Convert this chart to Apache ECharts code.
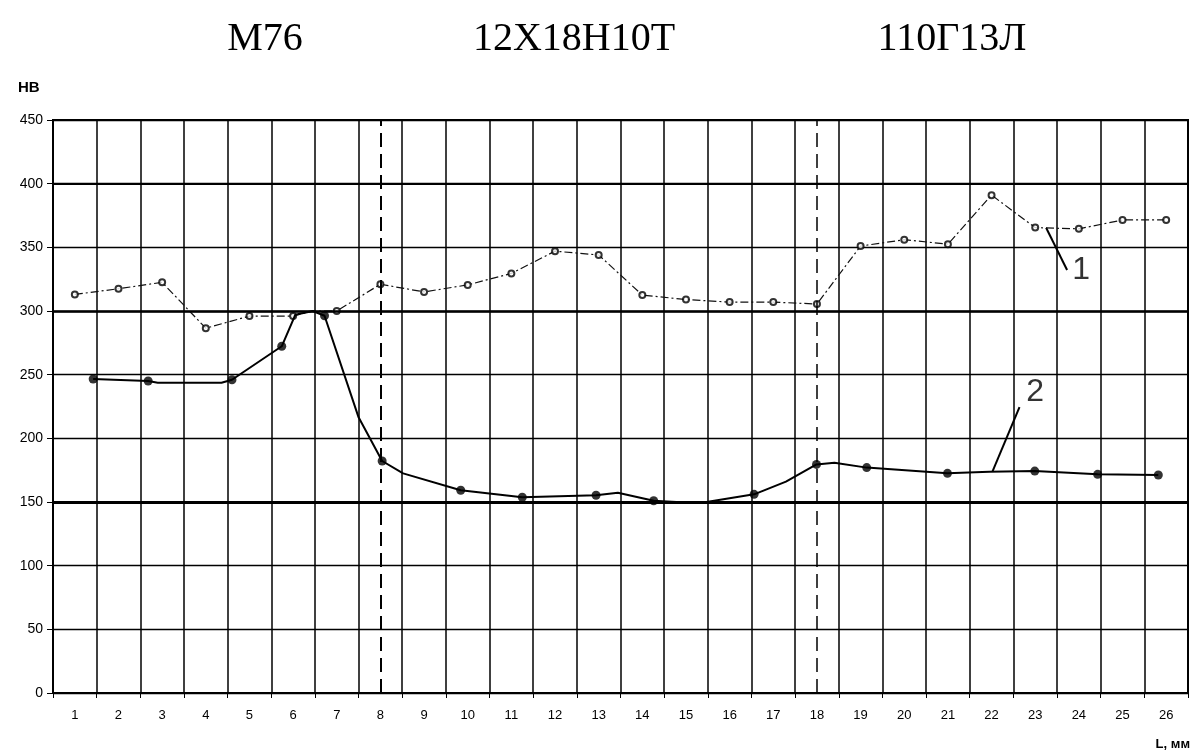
<!DOCTYPE html>
<html>
<head>
<meta charset="utf-8">
<script src="https://cdn.jsdelivr.net/npm/echarts@6/dist/echarts.min.js"></script>
<style>
html,body{margin:0;padding:0;background:#fff;}
#chart{width:1199px;height:756px;}
</style>
</head>
<body>
<div id="chart"></div>
<script>
// ---- data ----
var categories = ['1','2','3','4','5','6','7','8','9','10','11','12','13','14','15','16','17','18','19','20','21','22','23','24','25','26'];
var yTicks = [0,50,100,150,200,250,300,350,400,450];
var materials = ['M76','12X18H10T','110Г13Л'];
var boundaryPositions = [8, 18];

// curve 1: measured points (x in mm, HB)
var s1Points = [[1,313],[2,317.5],[3,322.5],[4,286.5],[5,296],[6,296],[7,300],[8,321],[9,315],[10,320.5],[11,329.5],[12,347],[13,344],[14,312.5],[15,309],[16,307],[17,307],[18,305.5],[19,351],[20,356],[21,352.5],[22,391],[23,365.5],[24,364.5],[25,371.5],[26,371.5]];
var s1Vertices = [[6.45,300]];

// curve 2: measured points and extra curve vertices
var s2Points = [[1.42,246.6],[2.68,245],[4.6,246],[5.74,272.3],[6.72,296.3],[8.04,182.2],[9.84,159.2],[11.25,153.7],[12.94,155.3],[14.26,151],[16.56,156],[17.99,179.5],[19.14,177],[20.99,172.5],[22.99,174.3],[24.43,171.7],[25.82,171.2]];
var s2Vertices = [[2.9,243.7],[4.36,243.7],[6.05,297],[6.45,300],[7.5,216.5],[8.52,172.5],[13.44,157.3],[14.78,150],[15.47,150],[17.29,166],[18.4,180.9],[21.95,173.8]];

function merged(a, b){ return a.concat(b).sort(function(p,q){return p[0]-q[0];}); }

var chart = echarts.init(document.getElementById('chart'));
var FONT = '"Liberation Sans", Arial, sans-serif';
var SERIF = '40px "Liberation Serif", "Times New Roman", serif';
var option = {
  animation: false,
  backgroundColor: '#fff',
  grid: {left: 53, right: 11, top: 120, bottom: 63, show: true, borderColor: '#000', borderWidth: 2, backgroundColor: 'transparent'},
  xAxis: [{
    type: 'category', data: categories, boundaryGap: true,
    axisLine: {lineStyle: {color: '#000', width: 2}},
    axisTick: {show: true, length: 5, lineStyle: {color: '#000', width: 1}},
    axisLabel: {color: '#000', fontFamily: FONT, fontSize: 13, margin: 16},
    splitLine: {show: true, lineStyle: {color: '#000', width: 1.5}}
  },{
    type: 'value', min: 0.5, max: 26.5, show: false
  }],
  yAxis: {
    type: 'value', min: 0, max: 450, interval: 50,
    axisLine: {show: true, lineStyle: {color: '#000', width: 1.5}},
    axisTick: {show: true, length: 6, lineStyle: {color: '#000'}},
    axisLabel: {color: '#000', fontFamily: FONT, fontSize: 14, margin: 10},
    splitLine: {show: true, lineStyle: {color: '#000', width: 1.3}}
  },
  graphic: [
    {type:'text', x: 265, y: 39, style:{text: materials[0], font: SERIF, fill:'#000', textAlign:'center', textVerticalAlign:'middle'}},
    {type:'text', x: 574, y: 39, style:{text: materials[1], font: SERIF, fill:'#000', textAlign:'center', textVerticalAlign:'middle'}},
    {type:'text', x: 952, y: 39, style:{text: materials[2], font: SERIF, fill:'#000', textAlign:'center', textVerticalAlign:'middle'}},
    {type:'text', x: 18, y: 88, style:{text: 'HB', font: 'bold 15px ' + FONT, fill:'#000', textVerticalAlign:'middle'}},
    {type:'text', x: 1190, y: 744, style:{text: 'L, мм', font: 'bold 13px ' + FONT, fill:'#000', textAlign:'right', textVerticalAlign:'middle'}}
  ],
  series: [
    {
      type: 'line', xAxisIndex: 1, data: [], silent: true,
      markLine: {
        symbol: 'none', silent: true, label: {show: false},
        data: [
          {yAxis: 150, lineStyle: {color:'#000', width: 3, type:'solid'}},
          {yAxis: 300, lineStyle: {color:'#000', width: 2.5, type:'solid'}},
          {yAxis: 400, lineStyle: {color:'#000', width: 2, type:'solid'}},
          {xAxis: boundaryPositions[0], lineStyle: {color:'#000', width: 2, type:[14,7]}},
          {xAxis: boundaryPositions[1], lineStyle: {color:'#000', width: 1.5, type:[14,7]}}
        ]
      }
    },
    {
      name: '1', type: 'line', xAxisIndex: 1, data: merged(s1Points, s1Vertices), showSymbol: false,
      lineStyle: {color: '#111', width: 1.2, type: [8,3,2,3]}, z: 3
    },
    {
      type: 'scatter', xAxisIndex: 1, data: s1Points, symbol: 'emptyCircle', symbolSize: 6,
      itemStyle: {color: '#000', borderColor: '#000', borderWidth: 1.5}, z: 4
    },
    {
      name: '2', type: 'line', xAxisIndex: 1, data: merged(s2Points, s2Vertices), showSymbol: false,
      lineStyle: {color: '#000', width: 2}, z: 5
    },
    {
      type: 'scatter', xAxisIndex: 1, data: s2Points, symbol: 'circle', symbolSize: 9,
      itemStyle: {color: '#000'}, z: 6
    },
    {
      type: 'line', xAxisIndex: 1, data: [[23.25,365.4],[23.73,332.2]], showSymbol: false,
      lineStyle: {color:'#000', width: 2}, z: 7
    },
    {
      type: 'line', xAxisIndex: 1, data: [[22.02,173.8],[22.64,224.5]], showSymbol: false,
      lineStyle: {color:'#000', width: 2}, z: 7
    },
    {
      type: 'scatter', xAxisIndex: 1, symbolSize: 0,
      data: [{value:[24.05,332], name:'1'}, {value:[23.0,236.5], name:'2'}],
      label: {show: true, position: 'inside', formatter: '{b}', color:'#000', fontFamily: FONT, fontSize: 32},
      z: 8
    }
  ]
};
chart.setOption(option);
</script>
</body>
</html>
